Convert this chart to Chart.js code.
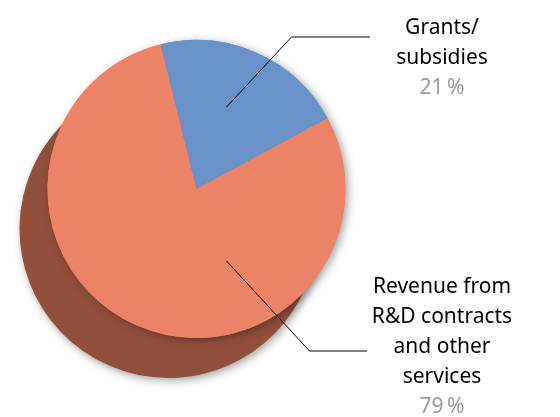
<!DOCTYPE html>
<html>
<head>
<meta charset="utf-8">
<script src="https://cdn.jsdelivr.net/npm/chart.js@4/dist/chart.umd.min.js"></script>
<style>
  html, body { margin: 0; padding: 0; background: #fff; }
  #wrap { width: 560px; height: 417px; position: relative; }
</style>
</head>
<body>
<div id="wrap"><canvas id="chart"></canvas></div>
<script>
const categories = ["Grants/\nsubsidies", "Revenue from\nR&D contracts\nand other\nservices"];
const shares = [21, 79];
const sliceColors = ["#6993c8", "#ed8366"];
const depthColor = "#914f3c";

// draws the dark offset "side" of the pie, then soft shadow, under the real slices
const depthPlugin = {
  id: "depth",
  beforeDatasetsDraw(chart) {
    const ctx = chart.ctx;
    const arcs = chart.getDatasetMeta(0).data;
    ctx.save();
    ctx.translate(-28, 40);
    ctx.shadowColor = "rgba(0,0,0,0.35)";
    ctx.shadowBlur = 8;
    ctx.shadowOffsetX = 2;
    ctx.shadowOffsetY = 3;
    arcs.forEach((arc) => {
      const bg = arc.options.backgroundColor;
      arc.options.backgroundColor = depthColor;
      arc.draw(ctx);
      arc.options.backgroundColor = bg;
    });
    ctx.restore();
    ctx.save();
    ctx.shadowColor = "rgba(0,0,0,0.35)";
    ctx.shadowBlur = 8;
    ctx.shadowOffsetX = 3;
    ctx.shadowOffsetY = 2;
    arcs.forEach((arc) => arc.draw(ctx));
    ctx.restore();
  },
};

// leader lines and labels on the right
const calloutPlugin = {
  id: "callouts",
  afterDatasetsDraw(chart) {
    const ctx = chart.ctx;
    const arc0 = chart.getDatasetMeta(0).data[0];
    const cx = arc0.x;
    const cy = arc0.y;
    const textX = 442;
    const callouts = [
      { from: [cx + 30, cy - 82], elbow: [cx + 95, cy - 152], end: 370, lines: categories[0].split("\n"), pct: shares[0], top: 28 },
      { from: [cx + 30, cy + 72], elbow: [cx + 113, cy + 162], end: 367, lines: categories[1].split("\n"), pct: shares[1], top: 287 },
    ];
    ctx.save();
    callouts.forEach((c) => {
      ctx.beginPath();
      ctx.strokeStyle = "#000";
      ctx.lineWidth = 1;
      ctx.moveTo(c.from[0], c.from[1]);
      ctx.lineTo(c.elbow[0], c.elbow[1]);
      ctx.lineTo(c.end, c.elbow[1]);
      ctx.stroke();

      ctx.font = "21px 'Noto Sans'";
      ctx.textAlign = "center";
      ctx.textBaseline = "middle";
      ctx.fillStyle = "#000";
      c.lines.forEach((t, i) => ctx.fillText(t, textX, c.top + i * 30));
      ctx.fillStyle = "#9a9a9a";
      ctx.fillText(c.pct + "\u2009%", textX, c.top + c.lines.length * 30);
    });
    ctx.restore();
  },
};

new Chart(document.getElementById("chart"), {
  type: "pie",
  data: {
    labels: categories,
    datasets: [
      {
        data: shares,
        backgroundColor: sliceColors,
        borderWidth: 0,
      },
    ],
  },
  options: {
    responsive: true,
    maintainAspectRatio: false,
    animation: false,
    rotation: -14,
    layout: {
      padding: { left: 46, right: 213, top: 40, bottom: 79 },
    },
    plugins: {
      legend: { display: false },
      tooltip: { enabled: false },
    },
  },
  plugins: [depthPlugin, calloutPlugin],
});
</script>
</body>
</html>
